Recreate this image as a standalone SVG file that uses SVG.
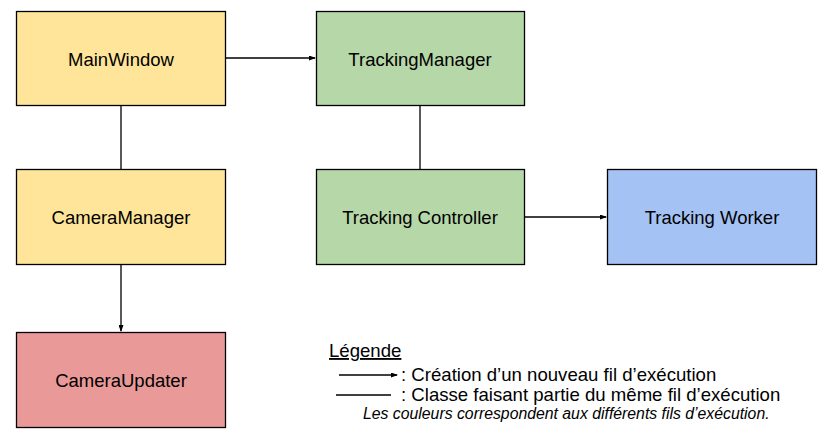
<svg xmlns="http://www.w3.org/2000/svg" width="830" height="440" viewBox="0 0 830 440">
<defs>
<style>
.box{stroke:#000;stroke-width:1.3}
.lbl{font-family:"Liberation Sans",Arial,sans-serif;font-size:18.5px;fill:#000;text-anchor:middle;dominant-baseline:central}
.leg{font-family:"Liberation Sans",Arial,sans-serif;font-size:18.6px;fill:#000}
.note{font-family:"Liberation Sans",Arial,sans-serif;font-size:15.8px;font-style:italic;fill:#000}
.ln{stroke:#000;stroke-width:1.3;fill:none}
</style>
<marker id="ah" markerWidth="7" markerHeight="5" refX="6" refY="2.5" orient="auto" markerUnits="userSpaceOnUse">
<path d="M0,0 L7,2.5 L0,5 Z" fill="#000"/>
</marker>
</defs>
<rect width="830" height="440" fill="#fff"/>
<g id="connectors">
<line class="ln" x1="225" y1="58" x2="315" y2="58" marker-end="url(#ah)"/>
<line class="ln" x1="121" y1="105" x2="121" y2="169"/>
<line class="ln" x1="420" y1="105" x2="420" y2="169"/>
<line class="ln" x1="524" y1="217" x2="606" y2="217" marker-end="url(#ah)"/>
<line class="ln" x1="121" y1="264" x2="121" y2="331" marker-end="url(#ah)"/>
</g>
<g id="MainWindow"><rect class="box" x="16.5" y="11.5" width="209" height="94" fill="#FFE599"/><text class="lbl" x="121" y="59">MainWindow</text></g>
<g id="TrackingManager"><rect class="box" x="316.5" y="11.5" width="208" height="94" fill="#B6D7A8"/><text class="lbl" x="420" y="59">TrackingManager</text></g>
<g id="CameraManager"><rect class="box" x="16.5" y="169.5" width="209" height="95" fill="#FFE599"/><text class="lbl" x="121" y="217">CameraManager</text></g>
<g id="TrackingController"><rect class="box" x="316.5" y="169.5" width="208" height="95" fill="#B6D7A8"/><text class="lbl" x="420" y="217">Tracking Controller</text></g>
<g id="TrackingWorker"><rect class="box" x="607.5" y="169.5" width="209" height="95" fill="#A4C2F4"/><text class="lbl" x="712" y="217">Tracking Worker</text></g>
<g id="CameraUpdater"><rect class="box" x="16.5" y="332.5" width="209" height="95" fill="#EA9999"/><text class="lbl" x="121" y="380">CameraUpdater</text></g>
<g id="legend">
<text class="leg" x="329" y="357" text-decoration="underline">Légende</text>
<line class="ln" x1="339" y1="375" x2="397" y2="375" marker-end="url(#ah)"/>
<text class="leg" x="401" y="381">: Création d’un nouveau fil d’exécution</text>
<line class="ln" x1="336" y1="395" x2="391" y2="395"/>
<text class="leg" x="401" y="401">: Classe faisant partie du même fil d’exécution</text>
<text class="note" x="363" y="419">Les couleurs correspondent aux différents fils d’exécution.</text>
</g>
</svg>
